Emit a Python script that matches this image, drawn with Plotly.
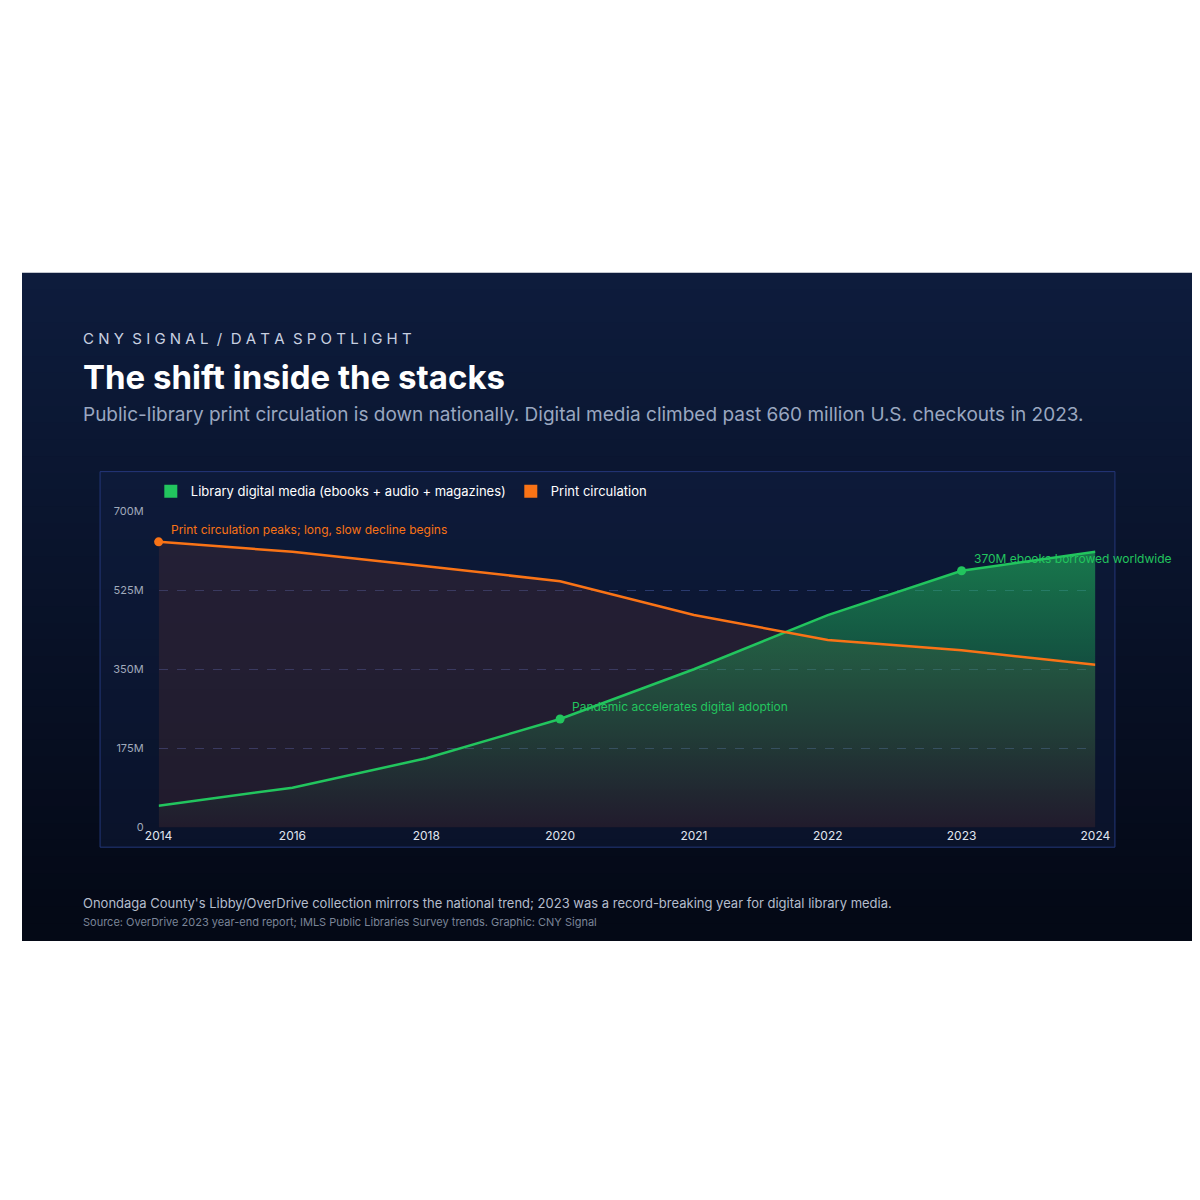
import plotly.graph_objects as go

years = ["2014", "2016", "2018", "2020", "2021", "2022", "2023", "2024"]
digital = [48, 88, 153, 240, 350, 470, 568, 610]
printc = [632, 610, 578, 545, 470, 415, 392, 360]
y_ticks = [0, 175, 350, 525, 700]
y_labels = ["0", "175M", "350M", "525M", "700M"]

GREEN = "#22c55e"
ORANGE = "#f97316"

fig = go.Figure()
# print fill (below), digital area, then print line on top
fig.add_trace(go.Scatter(x=years, y=printc, mode="none", fill="tozeroy",
                         fillcolor="rgba(120,60,50,0.22)", showlegend=False))
fig.add_trace(go.Scatter(
    x=years, y=digital, mode="lines", showlegend=False,
    line=dict(color=GREEN, width=2.5), fill="tozeroy",
    fillgradient=dict(type="vertical",
                      colorscale=[[0, "rgba(34,197,94,0.0)"], [1, "rgba(34,197,94,0.55)"]])))
fig.add_trace(go.Scatter(x=years, y=printc, mode="lines", showlegend=False,
                         line=dict(color=ORANGE, width=2.5)))
# highlighted points
fig.add_trace(go.Scatter(x=[years[0]], y=[printc[0]], mode="markers", cliponaxis=False,
                         marker=dict(color=ORANGE, size=9), showlegend=False))
fig.add_trace(go.Scatter(x=[years[3], years[6]], y=[digital[3], digital[6]], mode="markers",
                         marker=dict(color=GREEN, size=9), showlegend=False))
# legend entries with square swatches
fig.add_trace(go.Scatter(x=[None], y=[None], mode="markers",
                         name="Library digital media (ebooks + audio + magazines)",
                         marker=dict(color=GREEN, symbol="square", size=13)))
fig.add_trace(go.Scatter(x=[None], y=[None], mode="markers", name="Print circulation",
                         marker=dict(color=ORANGE, symbol="square", size=13)))

notes = [
    (0, printc[0], "Print circulation peaks; long, slow decline begins", ORANGE),
    (3, digital[3], "Pandemic accelerates digital adoption", GREEN),
    (6, digital[6], "370M ebooks borrowed worldwide", GREEN),
]
for xi, yi, txt, col in notes:
    fig.add_annotation(x=xi, y=yi, text=txt, showarrow=False, xanchor="left",
                       yanchor="bottom", xshift=10, yshift=3,
                       font=dict(color=col, size=12, family="Inter"))

# background gradient band
shapes = []
top, bot = 262 / 1200, 937 / 1200
n = 40
c0, c1 = (14, 28, 60), (4, 9, 22)
for i in range(n):
    t = i / (n - 1)
    col = tuple(int(c0[k] + (c1[k] - c0[k]) * t) for k in range(3))
    ya = (1 - top) - (bot - top) * i / n
    yb = (1 - top) - (bot - top) * (i + 1) / n
    shapes.append(dict(type="rect", xref="paper", yref="paper", x0=0, x1=1, y0=yb, y1=ya + 0.001,
                       fillcolor="rgb(%d,%d,%d)" % col, line=dict(width=0), layer="below"))
shapes.append(dict(type="rect", xref="paper", yref="paper", x0=80 / 1200, x1=1120 / 1200,
                   y0=1 - 842 / 1200, y1=1 - 462 / 1200, fillcolor="rgba(20,35,75,0.35)",
                   line=dict(color="#24377a", width=1), layer="below"))

texts = [
    (327, "C N Y  S I G N A L  /  D A T A  S P O T L I G H T", 15, "#c8d0e0"),
    (366, "<b>The shift inside the stacks</b>", 33, "white"),
    (404, "Public-library print circulation is down nationally. Digital media climbed past 660 million U.S. checkouts in 2023.", 19, "#9aa7c0"),
    (898, "Onondaga County's Libby/OverDrive collection mirrors the national trend; 2023 was a record-breaking year for digital library media.", 13, "#b4bdcc"),
    (918, "Source: OverDrive 2023 year-end report; IMLS Public Libraries Survey trends. Graphic: CNY Signal", 11, "#7b8598"),
]
for y, t, s, c in texts:
    fig.add_annotation(xref="paper", yref="paper", x=60 / 1200, y=1 - y / 1200, text=t,
                       showarrow=False, xanchor="left", yanchor="middle",
                       font=dict(size=s, color=c, family="Inter"))

fig.update_layout(
    margin=dict(l=0, r=0, t=0, b=0),
    paper_bgcolor="white", plot_bgcolor="rgba(0,0,0,0)", shapes=shapes,
    font=dict(family="Inter", color="#c8d0e0"),
    legend=dict(orientation="h", x=132 / 1200, y=1 - 482 / 1200, xanchor="left", yanchor="middle",
                font=dict(color="white", size=13), bgcolor="rgba(0,0,0,0)",
                traceorder="normal"),
    xaxis=dict(type="category", range=[0, 7], domain=[140 / 1200, 1100 / 1200],
               showgrid=False, zeroline=False, showline=False,
               tickfont=dict(color="#e0e6f0", size=12), ticklen=0),
    yaxis=dict(range=[0, 700], domain=[1 - 822 / 1200, 1 - 502 / 1200],
               tickvals=y_ticks, ticktext=y_labels, gridcolor="#2a3a6e", griddash="dash",
               zeroline=False, tickfont=dict(color="#a0aabb", size=11), ticklabelstandoff=14),
)
fig.write_html("out.html", default_width="1200px", default_height="1200px")
